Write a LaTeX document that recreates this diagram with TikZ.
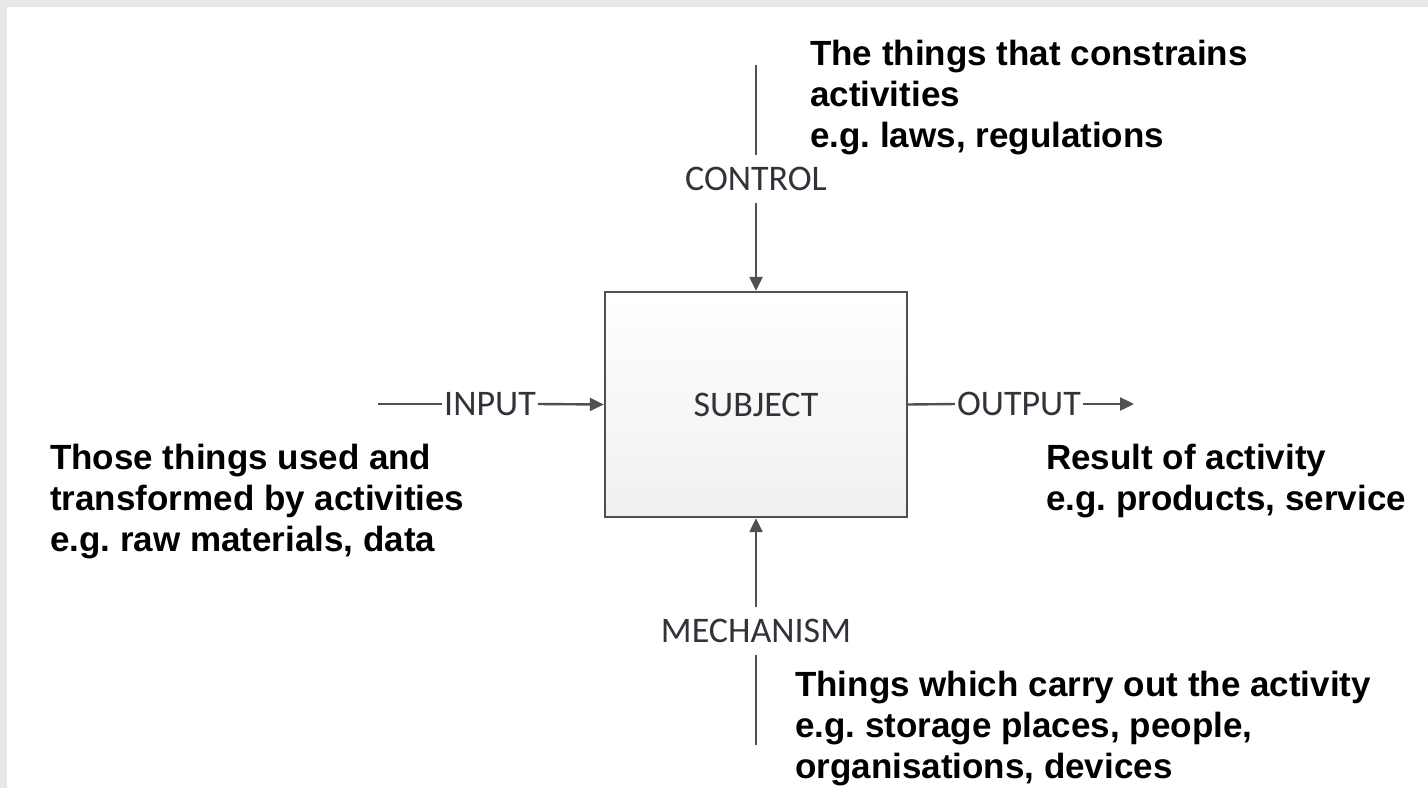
\documentclass[tikz,border=0pt]{standalone}
\usepackage{fontspec}
\setmainfont{Liberation Sans}
\newfontfamily\lblfont{Carlito}
\usetikzlibrary{arrows.meta}
\frenchspacing
\definecolor{linegray}{RGB}{80,80,80}
\definecolor{labelgray}{RGB}{50,50,58}
\definecolor{edgegray}{RGB}{232,232,232}
\begin{document}
\begin{tikzpicture}[x=1pt,y=-1pt,
  conn/.style={draw=linegray,line width=2.4pt},
  arr/.style={conn,-{Triangle[length=14pt,width=13pt]}},
  lbl/.style={font=\lblfont\fontsize{36}{40}\selectfont,text=labelgray,
    text height=23pt,text depth=0pt,inner xsep=2pt,inner ysep=12pt},
  note/.style={font=\bfseries\fontsize{35}{41}\selectfont,align=left,
    anchor=north west,inner sep=0pt,text=black},
  subjbox/.style={draw=linegray,line width=2.4pt,top color=white,bottom color=gray!12,
    minimum width=302pt,minimum height=225pt,inner sep=0pt}]
  % page and its textured edge
  \fill[white] (0,0) rectangle (1428,788);
  \fill[edgegray] (0,0) rectangle (1428,7);
  \fill[edgegray] (0,0) rectangle (7,788);
  \useasboundingbox (0,0) rectangle (1428,788);

  % activity box
  \node[subjbox] (subj) at (756,404.5) {};
  \node[font=\lblfont\fontsize{36}{40}\selectfont,text=labelgray] (subjtxt) at (756,404.5) {SUBJECT};

  % control (top)
  \coordinate (ctop) at (756,65);
  \node[lbl] (ctl) at (756,179) {CONTROL};
  \draw[conn] (ctop) -- (ctl.north);
  \draw[arr] (ctl.south) -- (subj.north);

  % input (left)
  \coordinate (inleft) at (378,404);
  \node[lbl,inner ysep=0pt] (inp) at (490,404) {INPUT};
  \draw[conn] (inleft) -- (inp.west);
  \draw[arr] (inp.east) -- (subj.west);

  % output (right)
  \coordinate (outright) at (1134,404);
  \node[lbl,inner ysep=0pt] (outp) at (1019,404) {OUTPUT};
  \draw[conn] (subj.east) -- (outp.west);
  \draw[arr] (outp.east) -- (outright);

  % mechanism (bottom)
  \coordinate (mbot) at (756,745);
  \node[lbl] (mech) at (756,631) {MECHANISM};
  \draw[conn] (mbot) -- (mech.south);
  \draw[arr] (mech.north) -- (subj.south);

  % explanations
  \node[note] (ctlnote) at (810,40) {The things that constrains\\activities\\e.g. laws, regulations};
  \node[note] (innote) at (50,444) {Those things used and\\transformed by activities\\e.g. raw materials, data};
  \node[note] (outnote) at (1046,444) {Result of activity\\e.g. products, service};
  \node[note] (mechnote) at (795,671) {Things which carry out the activity\\e.g. storage places, people,\\organisations, devices};
\end{tikzpicture}
\end{document}
